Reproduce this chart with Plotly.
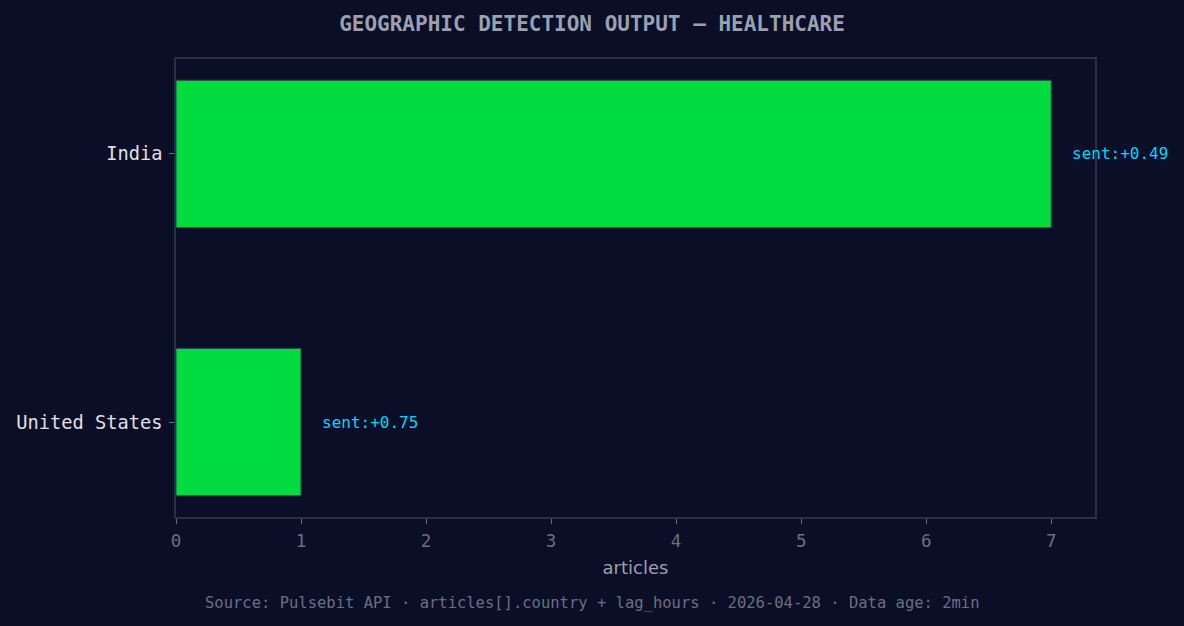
import plotly.graph_objects as go

countries = ["United States", "India"]
articles = [1, 7]
sentiment = [0.75, 0.49]

BG = "#0a0e27"
MONO = "DejaVu Sans Mono"

fig = go.Figure(go.Bar(
    x=articles, y=countries, orientation="h", width=0.55,
    marker=dict(color="#00dc3f", line=dict(color="#2f3a55", width=1)),
    showlegend=False, hoverinfo="skip",
))

for c, n, s in zip(countries, articles, sentiment):
    fig.add_annotation(
        x=n + 0.15, y=c, text=f"sent:{s:+.2f}", showarrow=False,
        xanchor="left", yanchor="middle",
        font=dict(family=MONO, size=16, color="#00d4ff"),
    )

# footer, centred on the page (plot area spans 176..1095 px, bottom at 517 px, height 458 px)
fig.add_annotation(
    x=(592 - 176) / 919, y=(517 - 603) / 458, xref="paper", yref="paper", showarrow=False,
    xanchor="center", yanchor="middle",
    text="Source: Pulsebit API · articles[].country + lag_hours · 2026-04-28 · Data age: 2min",
    font=dict(family=MONO, size=15.5, color="#6b7080"),
)

fig.update_layout(
    width=1184, height=626,
    paper_bgcolor=BG, plot_bgcolor=BG,
    margin=dict(l=176, r=89, t=59, b=109),
    title=dict(
        text="<b>GEOGRAPHIC DETECTION OUTPUT — HEALTHCARE</b>",
        x=0.5, xanchor="center", y=1 - 24 / 626, yanchor="middle",
        font=dict(family=MONO, size=21, color="#9aa0b0"),
    ),
    xaxis=dict(
        range=[0, 7.35], dtick=1, showgrid=False, zeroline=False,
        showline=True, linecolor="#2a2f4a", mirror=True, linewidth=1.5,
        ticks="outside", ticklen=5, tickcolor="#6b7080", ticklabelstandoff=2,
        tickfont=dict(family=MONO, size=17.5, color="#6b7080"),
        title=dict(text="articles", font=dict(family="DejaVu Sans", size=18, color="#9aa0b0"), standoff=12),
    ),
    yaxis=dict(
        range=[-0.354, 1.354], showgrid=False, zeroline=False,
        showline=True, linecolor="#2a2f4a", mirror=True, linewidth=1.5,
        ticks="outside", ticklen=5, tickcolor="#6b7080", ticklabelstandoff=3,
        tickfont=dict(family=MONO, size=18.7, color="#e0e0e0"),
    ),
)

fig.write_html("out.html", config={"displayModeBar": False},
               post_script="document.body.style.margin='0';")
